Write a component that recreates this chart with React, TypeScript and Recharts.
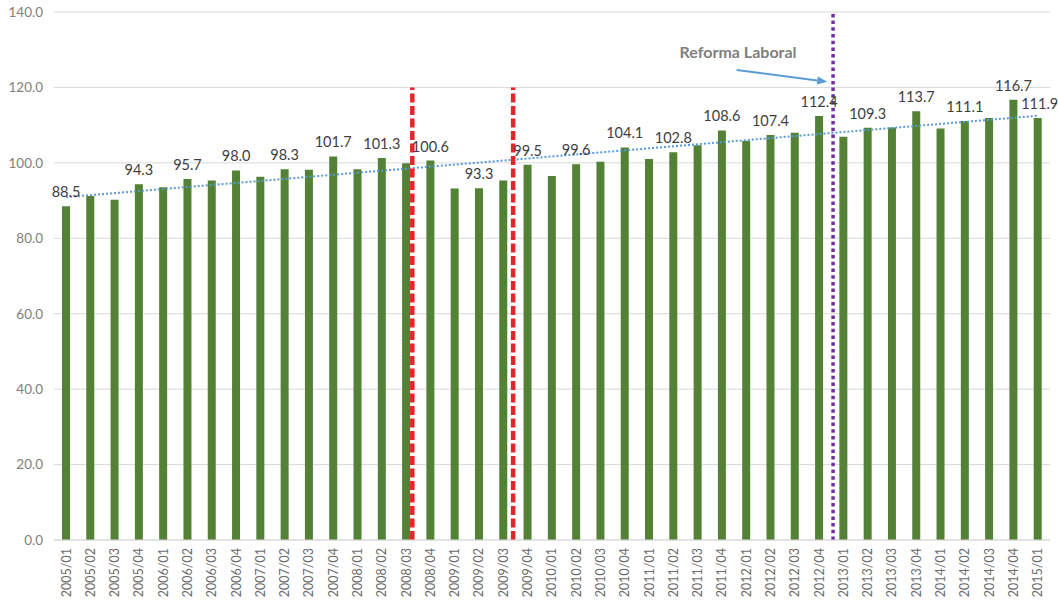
import {
  Bar,
  BarChart,
  CartesianGrid,
  LabelList,
  ReferenceDot,
  ReferenceLine,
  XAxis,
  YAxis,
} from 'recharts';

const periods = [
  '2005/01', '2005/02', '2005/03', '2005/04',
  '2006/01', '2006/02', '2006/03', '2006/04',
  '2007/01', '2007/02', '2007/03', '2007/04',
  '2008/01', '2008/02', '2008/03', '2008/04',
  '2009/01', '2009/02', '2009/03', '2009/04',
  '2010/01', '2010/02', '2010/03', '2010/04',
  '2011/01', '2011/02', '2011/03', '2011/04',
  '2012/01', '2012/02', '2012/03', '2012/04',
  '2013/01', '2013/02', '2013/03', '2013/04',
  '2014/01', '2014/02', '2014/03', '2014/04',
  '2015/01',
];

const productividad = [
  88.5, 91.2, 90.2, 94.3,
  93.5, 95.7, 95.3, 98.0,
  96.3, 98.3, 98.2, 101.7,
  98.3, 101.3, 99.9, 100.6,
  93.2, 93.3, 95.3, 99.5,
  96.5, 99.6, 100.3, 104.1,
  101.0, 102.8, 104.7, 108.6,
  105.8, 107.4, 108.0, 112.4,
  106.9, 109.3, 109.4, 113.7,
  109.1, 111.1, 111.9, 116.7,
  111.9,
];

// periods whose value is printed above the bar
const labeledPeriods = [
  '2005/01', '2005/04', '2006/02', '2006/04', '2007/02', '2007/04',
  '2008/02', '2008/04', '2009/02', '2009/04', '2010/02', '2010/04',
  '2011/02', '2011/04', '2012/02', '2012/04', '2013/02', '2013/04',
  '2014/02', '2014/04', '2015/01',
];

const yTicks = [0, 20, 40, 60, 80, 100, 120, 140];

// event markers, in bar-index units on the hidden "pos" axis
const crisisLines = [14.25, 18.4];
const crisisTop = 120;
const reformLine = 31.57;
const trendStart = 90.9;
const trendEnd = 112.5;
const arrowFrom = { x: 27.6, y: 124.6 };
const arrowTo = { x: 31.33, y: 121.5 };
const reformText = { x: 27.66, y: 129.4 };

const data = periods.map((period, i) => ({
  period,
  pos: i,
  value: productividad[i],
}));

function PeriodTick({ x, y, payload }: any) {
  return (
    <text
      x={x}
      y={y}
      transform={`rotate(-90 ${x} ${y})`}
      textAnchor="end"
      dy="0.35em"
      fill="#6b6b6b"
      fontSize={12.5}
    >
      {payload.value}
    </text>
  );
}

function renderValueLabel(props: any) {
  const { x, y, width, value, index } = props;
  if (!labeledPeriods.includes(periods[index])) return null;
  // the last label is nudged right, clear of the trend line
  const last = index === periods.length - 1;
  return (
    <text
      x={Number(x) + Number(width) / 2 + (last ? 2 : 0)}
      y={Number(y) - 9}
      textAnchor="middle"
      fill="#404040"
      fontSize={14.5}
    >
      {Number(value).toFixed(1)}
    </text>
  );
}

function ArrowShape(props: any) {
  const { x1, y1, x2, y2 } = props;
  const angle = Math.atan2(y2 - y1, x2 - x1);
  const head = 10;
  const half = 4;
  const bx = x2 - head * Math.cos(angle);
  const by = y2 - head * Math.sin(angle);
  const nx = -Math.sin(angle) * half;
  const ny = Math.cos(angle) * half;
  return (
    <g>
      <line x1={x1} y1={y1} x2={bx} y2={by} stroke="#5b9bd5" strokeWidth={2} />
      <polygon
        points={`${x2},${y2} ${bx + nx},${by + ny} ${bx - nx},${by - ny}`}
        fill="#5b9bd5"
      />
    </g>
  );
}

export default function App() {
  return (
    <div style={{ position: 'absolute', left: 0, top: 0, fontFamily: 'Lato' }}>
      <BarChart
        width={1058}
        height={603}
        data={data}
        margin={{ top: 12, right: 8, bottom: 0, left: 0 }}
      >
        <CartesianGrid stroke="#d9d9d9" vertical={false} />
        <XAxis
          dataKey="period"
          interval={0}
          height={63}
          tickLine={false}
          axisLine={{ stroke: '#d9d9d9' }}
          tick={<PeriodTick />}
        />
        <XAxis xAxisId="pos" type="number" dataKey="pos" domain={[-0.5, 40.5]} hide />
        <YAxis
          domain={[0, 140]}
          ticks={yTicks}
          width={54}
          tickLine={false}
          axisLine={false}
          tickMargin={5}
          tickFormatter={(v: number) => v.toFixed(1)}
          tick={{ fill: '#808080', fontSize: 13.5 }}
        />
        <Bar dataKey="value" fill="#538135" barSize={8} isAnimationActive={false}>
          <LabelList dataKey="value" content={renderValueLabel} />
        </Bar>
        <ReferenceLine
          xAxisId="pos"
          segment={[
            { x: 0, y: trendStart },
            { x: periods.length - 1, y: trendEnd },
          ]}
          stroke="#5b9bd5"
          strokeWidth={2}
          strokeDasharray="2 2"
        />
        {crisisLines.map((x) => (
          <ReferenceLine
            key={x}
            xAxisId="pos"
            segment={[
              { x, y: 0 },
              { x, y: crisisTop },
            ]}
            stroke="#e8232a"
            strokeWidth={4.5}
            strokeDasharray="9 3.5"
          />
        ))}
        <ReferenceLine
          xAxisId="pos"
          segment={[
            { x: reformLine, y: 0 },
            { x: reformLine, y: 140 },
          ]}
          stroke="#7030a0"
          strokeWidth={3.5}
          strokeDasharray="3.5 3.2"
        />
        <ReferenceLine
          xAxisId="pos"
          segment={[arrowFrom, arrowTo]}
          shape={<ArrowShape />}
        />
        <ReferenceDot
          xAxisId="pos"
          x={reformText.x}
          y={reformText.y}
          r={0}
          fill="none"
          stroke="none"
          label={{
            value: 'Reforma Laboral',
            position: 'center',
            fill: '#7f7f7f',
            fontSize: 16,
            fontWeight: 700,
          }}
        />
      </BarChart>
    </div>
  );
}
